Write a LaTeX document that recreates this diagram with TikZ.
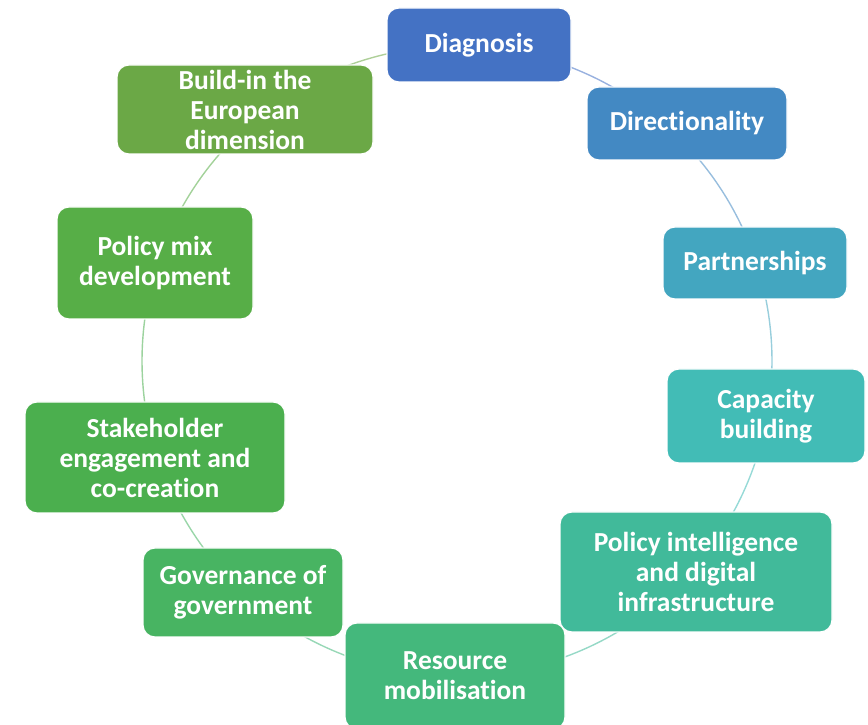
\documentclass[tikz,border=0pt]{standalone}
\usepackage{fontspec}
\setmainfont{Carlito}[Ligatures=NoCommon]
\usetikzlibrary{calc,backgrounds}

\definecolor{cDiag}{HTML}{4472C4}
\definecolor{cDir}{HTML}{4389C3}
\definecolor{cPart}{HTML}{43A6C0}
\definecolor{cCap}{HTML}{42BCB6}
\definecolor{cIntel}{HTML}{41BA9A}
\definecolor{cRes}{HTML}{44B87C}
\definecolor{cGov}{HTML}{48B462}
\definecolor{cStake}{HTML}{4BAF4E}
\definecolor{cMix}{HTML}{57AE47}
\definecolor{cEuro}{HTML}{6BA846}

% ring segment running clockwise from the centre angle of #1 to that of #2
\newcommand\ringlink[3]{%
  \draw[link, draw=#3!55!white]
    let \p1 = ($(#1)-(O)$), \p2 = ($(#2)-(O)$),
        \n1 = {atan2(\y1,\x1)}, \n2 = {atan2(\y2,\x2)},
        \n3 = {mod(\n1-\n2+720,360)} in
    ($(O)+(\n1:315)$) arc[start angle=\n1, delta angle=-\n3, radius=315];}

\begin{document}
\begin{tikzpicture}[x=1pt, y=1pt,
  stage/.style={rectangle, rounded corners=12pt, draw=white, line width=1.2pt,
    fill=#1, text=white, align=center, inner sep=0pt,
    font=\bfseries\fontsize{27.5}{30}\selectfont},
  link/.style={line width=1.4pt}]
\useasboundingbox (0,0) rectangle (868,725);
\coordinate (O) at (457,364);

\node[stage=cDiag,  minimum width=184pt, minimum height=74pt]  (diag)  at (479,680)   {Diagnosis};
\node[stage=cDir,   minimum width=200pt, minimum height=73pt]  (dir)   at (687,601.5) {Directionality};
\node[stage=cPart,  minimum width=184pt, minimum height=72pt]  (part)  at (755,462)   {Partnerships};
\node[stage=cCap,   minimum width=198pt, minimum height=94pt]  (cap)   at (766,309)   {Capacity\\building};
\node[stage=cIntel, minimum width=272pt, minimum height=120pt] (intel) at (696,153)   {Policy intelligence\\and digital\\infrastructure};
\node[stage=cRes,   minimum width=220pt, minimum height=106pt] (res)   at (455,49)    {Resource\\mobilisation};
\node[stage=cGov,   minimum width=200pt, minimum height=89pt]  (gov)   at (243,132.5) {Governance of\\government};
\node[stage=cStake, minimum width=260pt, minimum height=111pt] (stake) at (155,267.5) {Stakeholder\\engagement and\\co-creation};
\node[stage=cMix,   minimum width=196pt, minimum height=112pt] (mix)   at (155,462)   {Policy mix\\development};
\node[stage=cEuro,  minimum width=256pt, minimum height=89pt]  (euro)  at (245,615.5) {Build-in the\\European\\dimension};

\begin{scope}[on background layer]
  \ringlink{diag}{dir}{cDiag}
  \ringlink{dir}{part}{cDir}
  \ringlink{part}{cap}{cPart}
  \ringlink{cap}{intel}{cCap}
  \ringlink{intel}{res}{cIntel}
  \ringlink{res}{gov}{cRes}
  \ringlink{gov}{stake}{cGov}
  \ringlink{stake}{mix}{cStake}
  \ringlink{mix}{euro}{cMix}
  \ringlink{euro}{diag}{cEuro}
\end{scope}
\end{tikzpicture}
\end{document}
